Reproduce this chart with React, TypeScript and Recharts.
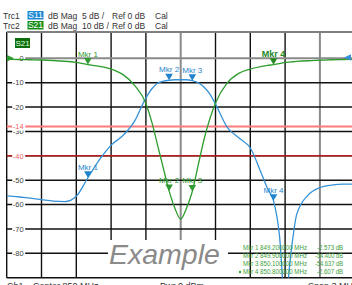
import { ComposedChart, Line, XAxis, YAxis, ReferenceLine, ReferenceDot } from 'recharts';

// sweep points, MHz
const FREQ_MHZ = [
  848.5, 848.6, 848.7, 848.8, 848.9, 849.0, 849.1, 849.2, 849.3, 849.4, 849.5, 849.6, 849.7, 849.75,
  849.8, 849.85, 849.9, 849.95, 850.0, 850.05, 850.1, 850.15, 850.2, 850.25, 850.3, 850.4, 850.5,
  850.6, 850.7, 850.75, 850.8, 850.85, 850.9, 850.95, 851.0, 851.1, 851.2, 851.3, 851.4, 851.5,
];

// Trc1, S11 dB (5 dB / div)
const S11_DB = [
  -28.2, -28.4, -28.7, -29.0, -29.3, -29.4, -28.3, -24.5, -20.8, -17.8, -15.9, -13.0, -8.1, -6.3,
  -5.1, -4.7, -4.5, -4.4, -4.4, -4.4, -4.6, -5.0, -5.9, -7.3, -9.4, -14.1, -16.3,
  -18.4, -23.9, -26.8, -29.2, -36.0, -50.0, -40.0, -32.0, -28.0, -26.5, -26.0, -25.8, -25.8,
];

// Trc2, S21 dB (10 dB / div)
const S21_DB = [
  -0.4, -0.5, -0.6, -0.7, -0.9, -1.2, -1.7, -2.573, -3.3, -4.4, -6.6, -11.0, -18.5, -26.0,
  -35.5, -45.0, -54.4, -61.5, -66.0, -61.5, -54.637, -44.0, -33.5, -25.0, -18.3, -10.2, -6.2,
  -4.4, -3.3, -2.9, -2.607, -2.2, -1.7, -1.5, -1.3, -1.0, -0.8, -0.6, -0.5, -0.4,
];

const H_GRID_DB = [0, -10, -20, -30, -40, -50, -60, -70, -80, -90];
const V_GRID_MHZ = [848.5, 848.8, 849.1, 849.4, 849.7, 850.0, 850.3, 850.6, 850.9, 851.2];

const MARKER_NAMES = ['Mkr 1', 'Mkr 2', 'Mkr 3', 'Mkr 4'];
const MARKER_MHZ = [849.2, 849.9, 850.1, 850.8];
const MARKER_S21_DB = [-2.573, -54.4, -54.637, -2.607];
const MARKER_READOUT_FREQ = ['849.200000 MHz', '849.900000 MHz', '850.100000 MHz', '850.800000 MHz'];
const MARKER_READOUT_VAL = ['-2.573 dB', '-54.400 dB', '-54.637 dB', '-2.607 dB'];

const S11_LIMIT_DB = -14;
const S21_LIMIT_DB = -40;

const S21_DOMAIN: [number, number] = [-90, 10.79];
const S11_DOMAIN: [number, number] = [-45, 5.395];

const BLUE = '#3592d8';
const GREEN = '#2e9c2e';
const FONT = '"Liberation Sans", Arial, sans-serif';

const rows = FREQ_MHZ.map((f, i) => ({ f, s11: S11_DB[i], s21: S21_DB[i] }));
const s11At = (f: number) => S11_DB[FREQ_MHZ.indexOf(f)];

function GridLabel({ viewBox, text, color }: any) {
  if (!viewBox) return null;
  const x = viewBox.x;
  const y = viewBox.y;
  return (
    <g>
      <rect x={x + 5.5} y={y - 4} width={13} height={8} fill="#fff" />
      <text x={x + 17} y={y + 2.8} textAnchor="end" fontSize={7.5} fontFamily={FONT} fill={color}>
        {text}
      </text>
    </g>
  );
}

const markerShape = (color: string, name: string, bold: boolean) => (p: any) => (
  <g>
    <path d={`M${p.cx - 3.8},${p.cy - 6.5}L${p.cx + 3.8},${p.cy - 6.5}L${p.cx},${p.cy}Z`} fill={color} />
    <text
      x={p.cx}
      y={p.cy - 8}
      textAnchor="middle"
      fontSize={bold ? 9 : 8}
      fontWeight={bold ? 'bold' : 'normal'}
      fontFamily={FONT}
      fill={color}
    >
      {name}
    </text>
  </g>
);

export default function App() {
  return (
    <div style={{ position: 'relative', width: 352, height: 285, overflow: 'hidden', background: '#fff' }}>
      <style>{'body{margin:0}'}</style>
      <ComposedChart width={360} height={285} data={rows} margin={{ top: 32, right: 5.3, bottom: 7.3, left: 6.7 }}>
        <XAxis dataKey="f" type="number" domain={[848.5, 851.5]} hide allowDataOverflow />
        <YAxis yAxisId="s21" domain={S21_DOMAIN} hide allowDataOverflow />
        <YAxis yAxisId="s11" domain={S11_DOMAIN} hide allowDataOverflow />

        {V_GRID_MHZ.map((f) => (
          <ReferenceLine
            key={`v${f}`}
            x={f}
            yAxisId="s21"
            stroke={f === 850.0 || f === 851.2 ? '#8a8a8a' : '#111'}
            strokeWidth={f === 850.0 || f === 851.2 ? 2 : 1.4}
          />
        ))}
        {H_GRID_DB.map((v) => (
          <ReferenceLine
            key={`h${v}`}
            y={v}
            yAxisId="s21"
            stroke={v === 0 ? '#8a8a8a' : '#111'}
            strokeWidth={v === 0 ? 2 : 1.4}
            label={v === -90 || v === S21_LIMIT_DB ? undefined : <GridLabel text={String(v)} color="#444" />}
          />
        ))}

        <ReferenceLine
          y={S11_LIMIT_DB}
          yAxisId="s11"
          stroke="#ff7b7b"
          strokeWidth={2}
          label={<GridLabel text={String(S11_LIMIT_DB)} color="#f26464" />}
        />
        <ReferenceLine
          y={S21_LIMIT_DB}
          yAxisId="s21"
          stroke="#b91c1c"
          strokeWidth={1.6}
          label={<GridLabel text={String(S21_LIMIT_DB)} color="#f26464" />}
        />

        <Line
          yAxisId="s11"
          dataKey="s11"
          type="monotone"
          stroke={BLUE}
          strokeWidth={1.3}
          dot={false}
          isAnimationActive={false}
        />
        <Line
          yAxisId="s21"
          dataKey="s21"
          type="monotone"
          stroke={GREEN}
          strokeWidth={1.3}
          dot={false}
          isAnimationActive={false}
        />

        {MARKER_MHZ.map((f, i) => (
          <ReferenceDot
            key={`m11${i}`}
            x={f}
            y={s11At(f)}
            yAxisId="s11"
            r={4}
            shape={markerShape('#1f84cc', MARKER_NAMES[i], false)}
          />
        ))}
        {MARKER_MHZ.map((f, i) => (
          <ReferenceDot
            key={`m21${i}`}
            x={f}
            y={MARKER_S21_DB[i]}
            yAxisId="s21"
            r={4}
            shape={markerShape(i === 3 ? '#23881f' : '#2f9a2f', MARKER_NAMES[i], i === 3)}
          />
        ))}
      </ComposedChart>

      <svg
        width={352}
        height={285}
        style={{ position: 'absolute', left: 0, top: 0, pointerEvents: 'none' }}
        fontFamily={FONT}
      >
        <g fontSize={8.5} fill="#333">
          <text x={3} y={18.5}>Trc1</text>
          <rect x={27.5} y={11} width={16} height={8.5} fill="#1e88d4" />
          <text x={35.5} y={18.3} textAnchor="middle" fill="#fff">S11</text>
          <text x={48} y={18.5}>dB Mag</text>
          <text x={82} y={18.5}>5 dB /</text>
          <text x={112} y={18.5}>Ref 0 dB</text>
          <text x={155} y={18.5}>Cal</text>

          <text x={3} y={28.5}>Trc2</text>
          <rect x={27.5} y={21} width={16} height={8.5} fill="#178c17" />
          <text x={35.5} y={28.3} textAnchor="middle" fill="#fff">S21</text>
          <text x={48} y={28.5}>dB Mag</text>
          <text x={82} y={28.5}>10 dB /</text>
          <text x={112} y={28.5}>Ref 0 dB</text>
          <text x={155} y={28.5}>Cal</text>
        </g>

        <line x1={6.7} y1={32} x2={352} y2={32} stroke="#808080" strokeWidth={2} />
        <rect x={15} y={38} width={15} height={10} fill="#0b6e0b" />
        <text x={22.5} y={46} textAnchor="middle" fontSize={8} fill="#e8ffe8">S21</text>

        <path d="M7,55 L14,58.3 L7,61.6 Z" fill={GREEN} />
        <path d="M344,57.5 L351,54.2 L351,60.8 Z" fill={BLUE} />

        <rect x={108} y={240} width={120} height={37} fill="#fff" />
        <text x={109} y={264} fontSize={28.5} fontStyle="italic" fill="#8a8a8a">Example</text>

        <g fontSize={7.5} fill="#3a9e3a">
          {MARKER_NAMES.map((name, i) => (
            <g key={name}>
              <text x={243} y={249.5 + i * 8.3} textLength={64} lengthAdjust="spacingAndGlyphs">
                {`${name} ${MARKER_READOUT_FREQ[i]}`}
              </text>
              <text
                x={343}
                y={249.5 + i * 8.3}
                textAnchor="end"
                textLength={MARKER_READOUT_VAL[i].length > 9 ? 28 : 26}
                lengthAdjust="spacingAndGlyphs"
              >
                {MARKER_READOUT_VAL[i]}
              </text>
            </g>
          ))}
          <circle cx={240} cy={272} r={1.2} />
        </g>

        <g fontSize={9} fill="#333">
          <text x={7} y={289}>Ch1</text>
          <text x={33} y={289}>Center  850 MHz</text>
          <text x={160} y={289}>Pwr  0 dBm</text>
          <text x={308} y={289}>Span  3 MHz</text>
        </g>
      </svg>
    </div>
  );
}
